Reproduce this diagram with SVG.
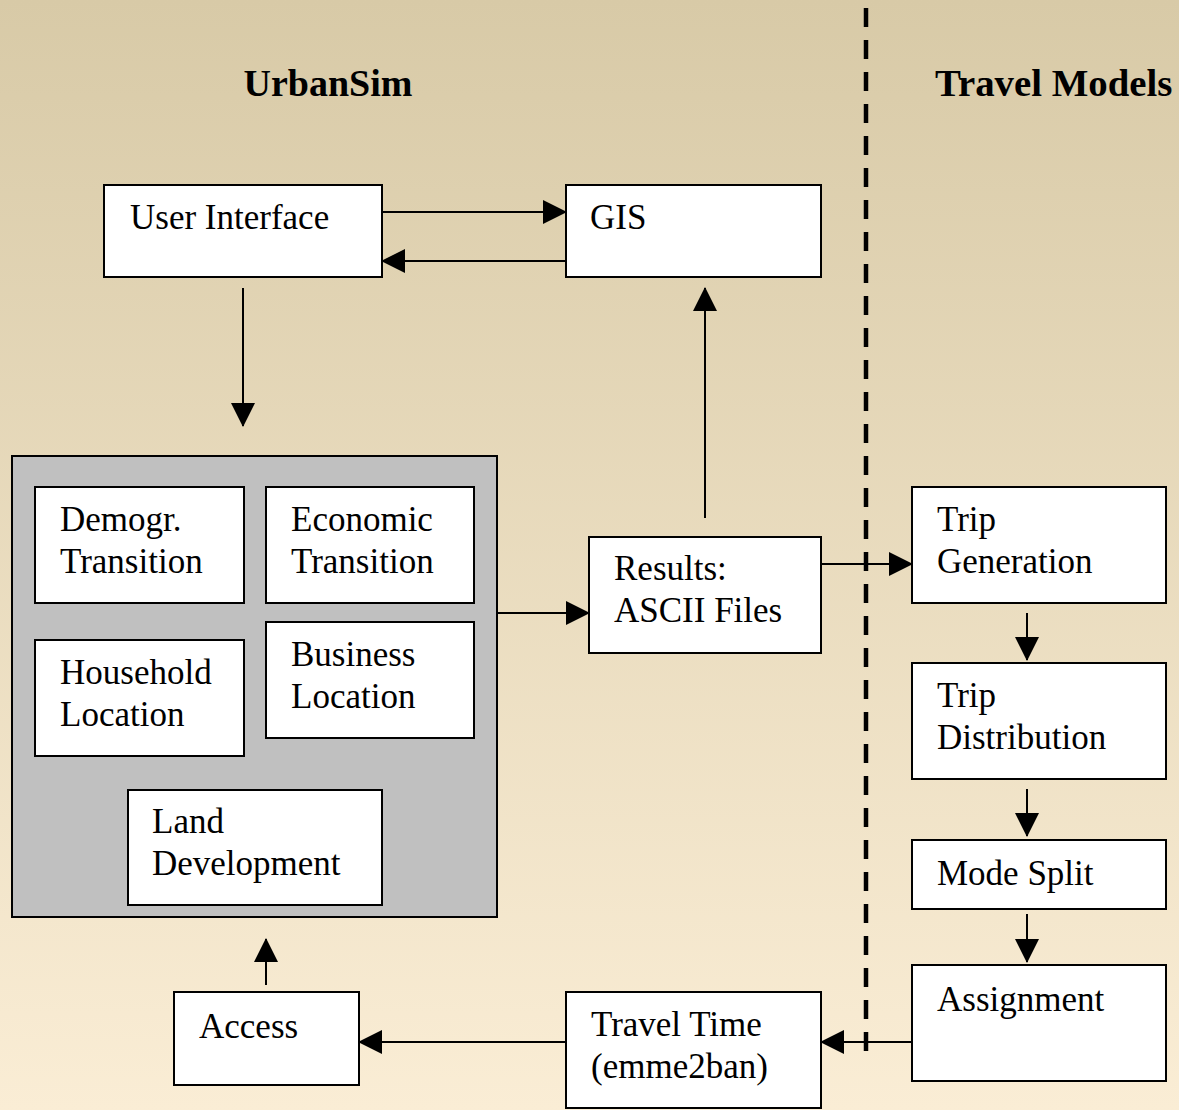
<svg xmlns="http://www.w3.org/2000/svg" width="1179" height="1110" viewBox="0 0 1179 1110">
<defs>
<linearGradient id="bg" x1="0" y1="0" x2="0" y2="1">
<stop offset="0" stop-color="#D8CAA7"/>
<stop offset="1" stop-color="#FAEDD5"/>
</linearGradient>
<marker id="ah" viewBox="0 0 24 24" refX="23" refY="12" markerWidth="24" markerHeight="24" markerUnits="userSpaceOnUse" orient="auto">
<path d="M0,0 L24,12 L0,24 z" fill="#000"/>
</marker>
</defs>
<style>
.box{fill:#fff;stroke:#000;stroke-width:2}
.t{font-family:"Liberation Serif","Times New Roman",serif;font-size:35px;fill:#000}
.h{font-family:"Liberation Serif","Times New Roman",serif;font-size:38px;font-weight:bold;fill:#000}
.c{stroke:#000;stroke-width:2;fill:none;marker-end:url(#ah)}
</style>
<rect x="0" y="0" width="1179" height="1110" fill="url(#bg)"/>
<text class="h" x="328" y="96" text-anchor="middle">UrbanSim</text>
<text class="h" x="935" y="96" style="font-size:38.8px">Travel Models</text>
<line x1="866" y1="8" x2="866" y2="1062" stroke="#000" stroke-width="4.5" stroke-dasharray="19,13"/>

<g id="urbansim-core">
<rect x="12" y="456" width="485" height="461" fill="#C0C0C0" stroke="#000" stroke-width="2"/>
</g>
<g id="user-interface"><rect class="box" x="104" y="185" width="278" height="92"/><text class="t" x="130" y="229">User Interface</text></g>
<g id="gis"><rect class="box" x="566" y="185" width="255" height="92"/><text class="t" x="590" y="229">GIS</text></g>
<g id="demogr"><rect class="box" x="35" y="487" width="209" height="116"/><text class="t" x="60" y="531">Demogr.</text><text class="t" x="60" y="573">Transition</text></g>
<g id="economic"><rect class="box" x="266" y="487" width="208" height="116"/><text class="t" x="291" y="531">Economic</text><text class="t" x="291" y="573">Transition</text></g>
<g id="household"><rect class="box" x="35" y="640" width="209" height="116"/><text class="t" x="60" y="684">Household</text><text class="t" x="60" y="726">Location</text></g>
<g id="business"><rect class="box" x="266" y="622" width="208" height="116"/><text class="t" x="291" y="666">Business</text><text class="t" x="291" y="708">Location</text></g>
<g id="land"><rect class="box" x="128" y="790" width="254" height="115"/><text class="t" x="152" y="833">Land</text><text class="t" x="152" y="875">Development</text></g>
<g id="results"><rect class="box" x="589" y="537" width="232" height="116"/><text class="t" x="614" y="580">Results:</text><text class="t" x="614" y="622">ASCII Files</text></g>
<g id="trip-generation"><rect class="box" x="912" y="487" width="254" height="116"/><text class="t" x="937" y="531">Trip</text><text class="t" x="937" y="573">Generation</text></g>
<g id="trip-distribution"><rect class="box" x="912" y="663" width="254" height="116"/><text class="t" x="937" y="707">Trip</text><text class="t" x="937" y="749">Distribution</text></g>
<g id="mode-split"><rect class="box" x="912" y="840" width="254" height="69"/><text class="t" x="937" y="885">Mode Split</text></g>
<g id="assignment"><rect class="box" x="912" y="965" width="254" height="116"/><text class="t" x="937" y="1011">Assignment</text></g>
<g id="travel-time"><rect class="box" x="566" y="992" width="255" height="116"/><text class="t" x="591" y="1036">Travel Time</text><text class="t" x="591" y="1078">(emme2ban)</text></g>
<g id="access"><rect class="box" x="174" y="992" width="185" height="93"/><text class="t" x="199" y="1038">Access</text></g>

<g id="connectors">
<line class="c" x1="382" y1="212" x2="566" y2="212"/>
<line class="c" x1="566" y1="261" x2="382" y2="261"/>
<line class="c" x1="243" y1="288" x2="243" y2="426"/>
<line class="c" x1="497" y1="613" x2="589" y2="613"/>
<line class="c" x1="705" y1="518" x2="705" y2="288"/>
<line class="c" x1="821" y1="564" x2="912" y2="564"/>
<line class="c" x1="1027" y1="613" x2="1027" y2="660"/>
<line class="c" x1="1027" y1="789" x2="1027" y2="836"/>
<line class="c" x1="1027" y1="914" x2="1027" y2="962"/>
<line class="c" x1="912" y1="1042" x2="821" y2="1042"/>
<line class="c" x1="566" y1="1042" x2="359" y2="1042"/>
<line class="c" x1="266" y1="985" x2="266" y2="939"/>
</g>
</svg>
